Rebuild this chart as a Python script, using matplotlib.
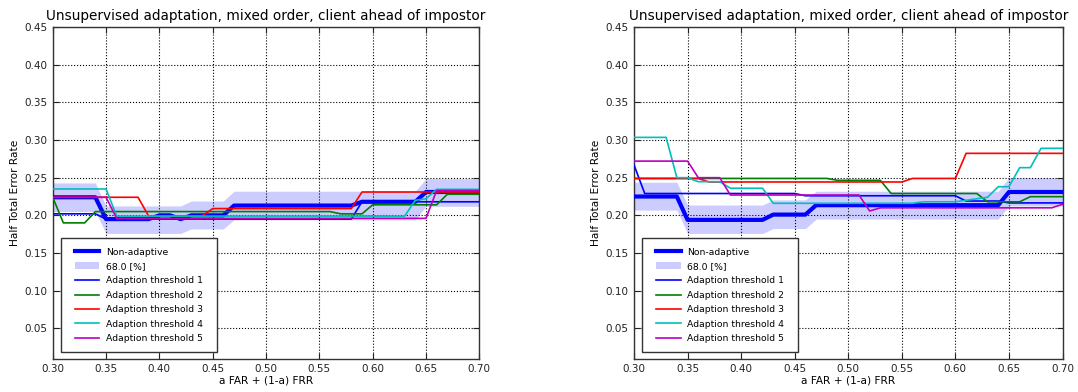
import numpy as np
import matplotlib
matplotlib.use("Agg")
import matplotlib.pyplot as plt
from matplotlib.patches import Rectangle

x = np.round(np.arange(0.30, 0.7001, 0.01), 2)

def steps(*pairs):
    out = []
    for n, v in pairs:
        out += [v] * n
    return np.array(out)

# ---------------- left panel ----------------
na_L = steps((5, 0.224), (5, 0.195), (2, 0.200), (1, 0.195), (4, 0.200), (12, 0.213), (6, 0.218), (6, 0.231))
hi_L = steps((5, 0.243), (8, 0.2125), (4, 0.219), (18, 0.232), (6, 0.2487))
lo_L = steps((5, 0.205), (8, 0.176), (4, 0.182), (18, 0.194), (6, 0.212))
t1_L = steps((5, 0.202), (24, 0.195), (12, 0.218))
t2_L = steps((1, 0.224), (3, 0.190), (23, 0.205), (3, 0.202), (7, 0.214), (4, 0.228))
t3_L = steps((9, 0.224), (6, 0.199), (14, 0.209), (12, 0.231))
t4_L = steps((6, 0.235), (28, 0.199), (1, 0.220), (1, 0.222), (5, 0.2345))
t5_L = steps((6, 0.224), (30, 0.196), (5, 0.233))

# ---------------- right panel ----------------
na_R = steps((5, 0.225), (8, 0.194), (4, 0.201), (18, 0.2135), (6, 0.231))
hi_R = steps((5, 0.244), (8, 0.2137), (4, 0.2205), (18, 0.232), (6, 0.250))
lo_R = steps((5, 0.207), (8, 0.176), (4, 0.1825), (18, 0.195), (6, 0.2125))
t1_R = steps((1, 0.267), (15, 0.229), (15, 0.226), (4, 0.219), (6, 0.2165))
t2_R = steps((19, 0.249), (5, 0.2465), (9, 0.229), (4, 0.218), (4, 0.2248))
t3_R = steps((7, 0.249), (19, 0.2443), (5, 0.249), (10, 0.2823))
t4_R = steps((4, 0.3035), (2, 0.250), (3, 0.2447), (4, 0.236), (14, 0.216), (4, 0.218),
             (1, 0.220), (1, 0.222), (1, 0.224), (2, 0.238), (2, 0.2633), (3, 0.289))
t5_R = steps((6, 0.272), (3, 0.250), (13, 0.227), (1, 0.2058), (17, 0.210), (1, 0.2146))

title = "Unsupervised adaptation, mixed order, client ahead of impostor"
xlabel = "a FAR + (1-a) FRR"
ylabel = "Half Total Error Rate"
thr_labels = ["Adaption threshold 1", "Adaption threshold 2", "Adaption threshold 3",
              "Adaption threshold 4", "Adaption threshold 5"]
colors = [(0, 0, 1), (0, 0.5, 0), (1, 0, 0), (0, 0.75, 0.75), (0.75, 0, 0.75)]
xticks = [0.30, 0.35, 0.40, 0.45, 0.50, 0.55, 0.60, 0.65, 0.70]
yticks = [0.05, 0.10, 0.15, 0.20, 0.25, 0.30, 0.35, 0.40, 0.45]

plt.rcParams['font.family'] = ['DejaVu Sans']

W, H = 1078, 392
fig = plt.figure(figsize=(W / 100, H / 100), dpi=100)

panels = [
    (52.7, 479.3, na_L, hi_L, lo_L, [t1_L, t2_L, t3_L, t4_L, t5_L]),
    (634.0, 1062.5, na_R, hi_R, lo_R, [t1_R, t2_R, t3_R, t4_R, t5_R]),
]
top_px, bot_px = 27.0, 358.5

for (l, r, na, hi, lo, thr) in panels:
    aw, ah = r - l, bot_px - top_px
    ax = fig.add_axes([l / W, 1 - bot_px / H, aw / W, ah / H])
    ax.plot(x, na, color=(0, 0, 1), lw=3.0, label="Non-adaptive", zorder=3)
    ax.fill_between(x, lo, hi, color=(0, 0, 1), alpha=0.2, lw=0, label="68.0 [%]", zorder=1)
    for vals, c, lab in zip(thr, colors, thr_labels):
        ax.plot(x, vals, color=c, lw=1.2, label=lab, zorder=4)
    ax.set_xlim(0.30, 0.70)
    ax.set_ylim(0.01, 0.45)
    ax.set_xticks(xticks)
    ax.set_yticks(yticks)
    ax.set_xticklabels(["%.2f" % v for v in xticks])
    ax.set_yticklabels(["%.2f" % v for v in yticks])
    ax.grid(True, color='black', linestyle=':', linewidth=0.8)
    ax.tick_params(direction='in', top=True, right=True, length=4, width=0.8,
                   labelsize=7.5, pad=4, colors='#222222')
    for s in ax.spines.values():
        s.set_linewidth(1.0)
        s.set_color('#333333')
    ax.set_title(title, fontsize=9.8, pad=5)
    ax.set_xlabel(xlabel, fontsize=7.6, labelpad=1)
    ax.set_ylabel(ylabel, fontsize=7.6, labelpad=3)
    # legend frame (slightly wider than the default padding allows)
    ax.add_patch(Rectangle((8.0 / aw, 6.2 / ah), 156.0 / aw, 114.0 / ah,
                           transform=ax.transAxes, facecolor='white',
                           edgecolor='#333333', lw=1.0, zorder=4.5))
    ax.legend(loc='lower left', bbox_to_anchor=(13.0 / aw, 6.2 / ah), borderaxespad=0,
              fontsize=6.7, frameon=False,
              borderpad=1.0, handlelength=2.6, handletextpad=0.7, labelspacing=0.58)

fig.savefig("out.png", dpi=100)
